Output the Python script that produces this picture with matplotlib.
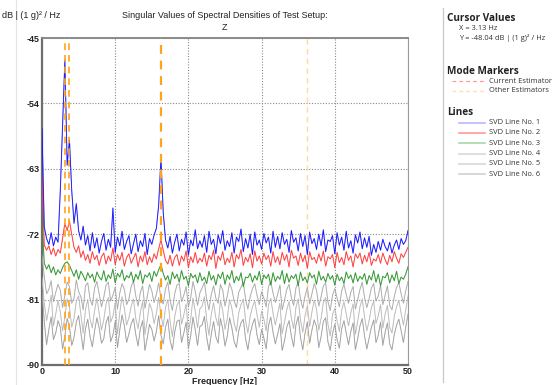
import numpy as np
import matplotlib
matplotlib.use("Agg")
import matplotlib.pyplot as plt
from matplotlib.lines import Line2D

plt.rcParams["axes.unicode_minus"] = False

# ---------------- data ----------------
df = 0.3125  # frequency resolution [Hz]

svd1 = [-57.5, -71.0, -72.6, -73.4, -71.8, -73.6, -72.4, -73.1, -66.0, -57.0,
        -48.0, -62.5, -59.0, -66.0, -70.5, -67.8, -71.5, -72.8, -70.9, -73.5,
        -72.2, -74.3, -71.8, -73.9, -72.5, -74.6, -73.0, -71.9, -74.2, -72.7,
        -73.8, -68.4, -74.5, -72.4, -73.6, -71.6, -74.1, -73.0, -72.2, -74.7,
        -73.3, -72.0, -74.4, -72.9, -73.7, -71.9, -74.8, -72.6, -73.4, -72.1,
        -71.2, -68.0, -61.5, -69.0, -72.8, -73.9, -72.3, -74.6, -73.1, -72.0,
        -74.3, -72.7, -73.5, -71.7, -74.9, -72.8, -73.6, -71.4, -74.0, -72.9,
        -73.8, -72.2, -74.5, -71.6, -73.4, -72.7, -74.7, -72.1, -73.3, -71.5,
        -74.2, -72.9, -73.7, -71.8, -74.6, -72.4, -73.0, -71.3, -74.4, -72.6,
        -73.9, -72.0, -74.8, -71.7, -73.5, -72.8, -74.1, -71.9, -73.2, -72.4,
        -74.6, -71.6, -73.8, -72.3, -74.0, -71.8, -73.4, -72.7, -74.5, -71.5,
        -73.1, -72.5, -74.3, -71.9, -73.7, -72.2, -74.8, -71.7, -73.3, -72.6,
        -74.1, -72.0, -73.6, -71.4, -74.4, -72.8, -73.0, -72.2, -74.7, -71.8,
        -73.5, -72.4, -74.2, -71.6, -73.9, -72.9, -74.6, -72.1, -73.2, -71.7,
        -74.0, -72.5, -73.8, -72.3, -74.9, -73.4, -74.5, -73.0, -74.2, -72.7,
        -73.7, -74.3, -73.1, -74.6, -73.5, -72.8, -74.1, -72.6, -73.4, -72.9,
        -71.5]

svd2 = [-64.0, -73.5, -74.2, -73.6, -74.8, -73.9, -75.0, -74.1, -74.6, -72.5,
        -70.5, -71.5, -70.2, -72.0, -73.8, -74.5, -73.6, -75.2, -74.3, -75.6,
        -74.8, -76.0, -74.4, -75.5, -74.9, -76.3, -75.1, -74.6, -76.1, -75.0,
        -75.7, -73.9, -76.2, -74.8, -75.6, -74.5, -76.4, -75.2, -74.7, -76.0,
        -75.3, -74.6, -76.5, -75.0, -75.8, -74.4, -76.2, -75.1, -75.9, -74.7,
        -75.4, -74.0, -72.8, -74.2, -75.6, -76.1, -74.9, -76.4, -75.2, -74.8,
        -76.3, -75.0, -75.7, -74.3, -76.6, -75.1, -75.9, -74.5, -76.0, -75.3,
        -75.8, -74.6, -76.4, -74.9, -75.5, -74.2, -76.7, -75.0, -75.6, -74.4,
        -76.2, -75.3, -75.9, -74.5, -76.5, -74.8, -75.4, -74.1, -76.3, -75.2,
        -75.8, -74.7, -76.6, -74.3, -75.7, -75.0, -76.1, -74.6, -75.5, -74.9,
        -76.4, -74.4, -75.9, -75.1, -76.2, -74.5, -75.6, -74.8, -76.5, -74.2,
        -75.3, -75.0, -76.3, -74.6, -75.8, -74.9, -76.7, -74.4, -75.5, -75.2,
        -76.0, -74.7, -75.7, -74.3, -76.4, -75.1, -75.4, -74.8, -76.6, -74.5,
        -75.9, -75.2, -76.2, -74.4, -75.6, -75.0, -76.5, -74.7, -75.3, -74.6,
        -76.1, -74.9, -75.8, -74.5, -76.3, -75.4, -75.7, -74.8, -76.0, -74.6,
        -75.5, -76.2, -74.9, -75.8, -74.4, -75.3, -76.0, -74.7, -75.2, -74.5,
        -73.8]

svd3 = [-70.0, -76.0, -76.8, -76.2, -77.3, -76.5, -77.6, -76.9, -77.4, -76.6,
        -76.0, -75.8, -76.3, -77.0, -77.8, -76.9, -78.2, -77.1, -77.7, -78.4,
        -77.3, -78.0, -77.5, -78.6, -77.2, -77.9, -78.3, -77.0, -78.5, -77.6,
        -78.1, -76.8, -78.7, -77.4, -77.9, -76.9, -78.4, -77.7, -78.0, -77.2,
        -78.6, -77.5, -78.2, -77.0, -78.8, -77.6, -77.9, -77.3, -78.5, -77.1,
        -77.8, -76.9, -76.2, -77.4, -78.3, -77.7, -78.9, -77.2, -78.1, -77.5,
        -78.6, -77.0, -78.2, -77.8, -79.1, -77.4, -78.0, -77.6, -78.7, -77.3,
        -78.4, -77.9, -78.8, -77.1, -78.3, -77.7, -79.0, -77.5, -78.1, -77.2,
        -78.9, -77.6, -78.2, -77.0, -78.7, -77.8, -78.4, -77.3, -79.2, -77.9,
        -78.0, -77.4, -78.6, -77.7, -78.3, -77.1, -78.9, -77.6, -78.1, -77.5,
        -79.0, -77.3, -78.5, -77.8, -78.2, -77.0, -78.8, -77.4, -78.6, -77.7,
        -78.1, -77.5, -79.1, -77.2, -78.4, -77.9, -78.7, -77.3, -78.0, -77.6,
        -78.9, -77.1, -78.3, -77.8, -78.6, -77.4, -78.2, -77.7, -79.0, -77.5,
        -78.4, -77.9, -78.8, -77.2, -78.1, -77.6, -78.7, -77.3, -78.5, -77.8,
        -78.2, -77.4, -78.9, -77.7, -78.3, -77.0, -78.6, -77.5, -79.1, -77.8,
        -78.0, -77.3, -78.7, -77.6, -78.4, -77.1, -78.8, -77.9, -78.2, -77.5,
        -76.5]

svd4 = [-75.0, -77.8, -80.2, -79.6, -78.4, -81.3, -80.0, -78.9, -79.7, -82.1,
        -80.4, -78.6, -79.2, -81.5, -80.8, -78.3, -79.9, -80.6, -82.4, -79.1,
        -78.7, -80.9, -81.8, -79.4, -78.5, -80.2, -82.0, -80.7, -79.0, -78.6,
        -81.2, -80.4, -79.3, -82.3, -80.1, -78.8, -79.6, -81.7, -80.9, -79.2,
        -78.4, -80.5, -81.9, -80.0, -79.1, -82.2, -80.6, -78.9, -79.8, -81.4,
        -80.3, -78.7, -80.8, -81.6, -79.5, -78.6, -81.1, -82.5, -80.2, -79.0,
        -78.8, -81.3, -80.4, -79.2, -82.0, -80.7, -78.5, -79.9, -81.8, -80.1,
        -79.4, -78.6, -81.0, -82.4, -80.3, -79.1, -80.8, -81.5, -78.9, -79.7,
        -81.9, -80.5, -78.7, -79.6, -81.2, -82.1, -80.0, -79.3, -78.6, -80.9,
        -82.3, -80.6, -79.5, -78.8, -80.4, -81.7, -79.9, -80.8, -82.0, -79.2,
        -78.5, -80.1, -81.4, -80.3, -79.0, -82.4, -81.1, -79.6, -78.9, -80.7,
        -81.8, -79.4, -78.6, -80.9, -82.2, -80.5, -79.3, -81.6, -80.2, -78.8,
        -79.7, -81.9, -80.6, -79.1, -78.7, -81.3, -82.5, -80.4, -79.5, -80.8,
        -82.0, -79.8, -78.9, -80.3, -81.5, -80.0, -79.2, -82.3, -81.0, -79.6,
        -78.6, -80.7, -82.1, -80.9, -79.4, -78.8, -81.2, -80.5, -79.0, -81.7,
        -80.4, -79.1, -81.8, -82.4, -80.6, -79.3, -78.7, -80.2, -81.5, -79.8,
        -78.5]

svd5 = [-78.0, -81.5, -83.9, -82.2, -80.4, -84.6, -83.0, -81.1, -82.7, -85.3,
        -83.4, -80.9, -82.0, -84.8, -83.6, -81.2, -80.5, -83.1, -85.6, -82.4,
        -81.0, -83.7, -84.9, -82.5, -80.8, -82.9, -85.2, -83.8, -81.6, -80.7,
        -84.1, -83.3, -81.4, -85.7, -82.8, -80.6, -82.2, -84.5, -83.5, -81.9,
        -80.9, -83.6, -85.0, -82.7, -81.3, -85.8, -83.9, -81.5, -82.4, -84.3,
        -82.9, -80.7, -83.2, -84.7, -82.1, -81.0, -84.0, -86.1, -83.4, -81.8,
        -81.2, -84.4, -83.1, -81.6, -85.5, -83.7, -80.8, -82.6, -84.9, -82.3,
        -81.9, -80.6, -83.8, -85.9, -83.0, -81.4, -83.5, -84.6, -81.1, -82.5,
        -85.1, -83.6, -81.0, -82.2, -84.2, -85.4, -82.8, -81.7, -80.9, -83.9,
        -85.6, -83.3, -82.0, -81.2, -83.1, -84.8, -82.6, -83.7, -85.3, -81.8,
        -80.8, -82.9, -84.5, -83.0, -81.5, -85.7, -84.1, -82.4, -81.3, -83.5,
        -85.0, -82.1, -80.9, -83.8, -85.5, -83.2, -81.9, -84.7, -82.7, -81.1,
        -82.3, -85.2, -83.6, -81.4, -80.7, -84.4, -86.0, -83.1, -82.2, -83.9,
        -85.4, -82.5, -81.3, -83.0, -84.6, -82.8, -81.6, -85.8, -84.0, -82.0,
        -80.9, -83.4, -85.3, -83.9, -82.1, -81.2, -84.3, -83.2, -81.7, -84.9,
        -83.0, -81.8, -84.8, -85.6, -83.3, -82.0, -81.1, -82.9, -84.5, -82.4,
        -80.5]

svd6 = [-80.0, -84.0, -87.2, -85.1, -83.4, -86.5, -85.6, -83.9, -84.8, -87.8,
        -86.0, -83.6, -84.7, -87.3, -86.2, -84.1, -83.2, -85.5, -87.9, -85.0,
        -83.7, -86.1, -87.5, -85.3, -83.5, -84.9, -87.0, -86.4, -84.2, -83.3,
        -86.8, -85.9, -84.0, -87.6, -85.2, -83.1, -84.6, -86.9, -85.7, -84.3,
        -83.6, -85.8, -87.4, -85.0, -83.9, -88.0, -86.3, -84.4, -85.1, -86.7,
        -85.4, -83.2, -85.9, -87.1, -84.8, -83.7, -86.6, -87.9, -85.5, -84.0,
        -83.8, -86.9, -85.6, -84.1, -87.7, -86.0, -83.4, -85.2, -87.3, -84.7,
        -84.5, -83.3, -86.2, -88.0, -85.8, -84.0, -86.1, -87.0, -83.6, -85.0,
        -87.4, -86.0, -83.5, -84.9, -86.8, -87.6, -85.3, -84.2, -83.7, -86.4,
        -87.9, -85.7, -84.4, -83.6, -85.9, -87.2, -85.1, -86.3, -87.8, -84.6,
        -83.4, -85.5, -87.1, -85.8, -84.3, -88.0, -86.7, -84.8, -83.9, -86.0,
        -87.5, -84.5, -83.3, -86.2, -87.9, -85.6, -84.1, -87.0, -85.2, -83.8,
        -84.7, -87.6, -86.1, -84.0, -83.5, -86.8, -88.0, -85.7, -84.4, -86.5,
        -87.7, -85.0, -83.9, -85.6, -87.2, -85.4, -84.2, -87.9, -86.4, -84.6,
        -83.6, -86.0, -87.8, -86.3, -84.8, -83.8, -86.9, -85.9, -84.1, -87.3,
        -85.5, -84.2, -87.1, -87.9, -85.8, -84.5, -83.7, -85.3, -86.9, -84.8,
        -83.0]

series = [svd1, svd2, svd3, svd4, svd5, svd6]
series_names = ["SVD Line No. 1", "SVD Line No. 2", "SVD Line No. 3",
                "SVD Line No. 4", "SVD Line No. 5", "SVD Line No. 6"]
mode_freqs = [3.13, 3.75, 16.25]
other_freqs = [36.2]
x_ticks = [0, 10, 20, 30, 40, 50]
y_ticks = [-90, -81, -72, -63, -54, -45]

# ---------------- styling ----------------
line_colors = ["#1414ff", "#ff3b3b", "#2f962f", "#a8a8a8", "#b8b8b8", "#9c9c9c"]
legend_colors = ["#b8b8ff", "#ff9a9a", "#a8d8a8", "#d8d8d8", "#d8d8d8", "#d0d0d0"]
W, H = 560, 385
fig = plt.figure(figsize=(W / 100, H / 100), dpi=100)
fig.patch.set_facecolor("white")

L, R, T, B = 42, 408, 38, 365
ax = fig.add_axes([L / W, 1 - B / H, (R - L) / W, (B - T) / H])

freq = np.arange(len(svd1)) * df
for i in reversed(range(6)):
    ax.plot(freq, series[i], color=line_colors[i], lw=0.8, alpha=0.35 if i < 3 else 0.3,
            solid_joinstyle="round", zorder=3)
    ax.plot(freq, series[i], color=line_colors[i], lw=0.6 if i < 3 else 0.55, zorder=3)

for f in mode_freqs:
    ax.axvline(f, color="#ffa31a", lw=1.6 if f > 10 else 1.2, dashes=(4, 3), zorder=4)
for f in other_freqs:
    ax.axvline(f, color="#ffd9a0", lw=1.0, dashes=(4, 3), zorder=2)

ax.set_xlim(0, 50)
ax.set_ylim(-90, -45)
ax.set_xticks(x_ticks)
ax.set_yticks(y_ticks)
ax.grid(True, color="#8a8a8a", lw=0.8, ls=(0, (1, 1.5)))
ax.tick_params(length=0, pad=1.5, labelsize=6.5, colors="#222222")
for lab in ax.get_xticklabels() + ax.get_yticklabels():
    lab.set_fontfamily("Liberation Sans")
    lab.set_fontweight("bold")
for s in ["left", "bottom"]:
    ax.spines[s].set_color("#6e6e6e")
    ax.spines[s].set_linewidth(1.6)
ax.spines["top"].set_color("#8a8a8a")
ax.spines["top"].set_linewidth(1.4)
ax.spines["right"].set_color("#9a9a9a")
ax.spines["right"].set_linewidth(0.8)
ax.set_xlabel("Frequency [Hz]", fontsize=6.5, fontweight="bold", family="Liberation Sans",
              labelpad=1, color="#222222")

def fy(y):
    return 1 - y / H

fig.text(2 / W, fy(15), "dB | (1 g)² / Hz", fontsize=6.5, family="Liberation Sans",
         va="center", ha="left", color="#222222")
fig.text(225 / W, fy(15), "Singular Values of Spectral Densities of Test Setup:",
         fontsize=6.5, family="Liberation Sans", va="center", ha="center", color="#222222")
fig.text(225 / W, fy(27), "Z", fontsize=6.5, family="Liberation Sans",
         va="center", ha="center", color="#222222")

# panel separators
fig.add_artist(Line2D([16 / W, 16 / W], [0, 1], color="#e4e4e4", lw=0.8))
fig.add_artist(Line2D([443 / W, 443 / W], [fy(8), fy(382)], color="#c8c8c8", lw=0.9))

# right-side legend panel
lf = "Open Sans"
fs_small = 5.4
fig.text(447 / W, fy(18.5), "Cursor Values", fontsize=7.2, fontweight="bold", family=lf,
         va="center", color="#222222")
fig.text(459 / W, fy(29), "X = 3.13 Hz", fontsize=fs_small, family=lf, va="center", color="#333333")
fig.text(459 / W, fy(38), "Y = -48.04 dB | (1 g)² / Hz", fontsize=fs_small, family=lf,
         va="center", color="#333333")
fig.text(447 / W, fy(71), "Mode Markers", fontsize=7.2, fontweight="bold", family=lf,
         va="center", color="#222222")
fig.add_artist(Line2D([452 / W, 485 / W], [fy(81.3)] * 2, color="#ff9a9a", lw=0.9, dashes=(3, 2.5)))
fig.text(489 / W, fy(81.3), "Current Estimator", fontsize=fs_small, family=lf, va="center", color="#333333")
fig.add_artist(Line2D([452 / W, 485 / W], [fy(90.7)] * 2, color="#ffdca8", lw=0.9, dashes=(3, 2.5)))
fig.text(489 / W, fy(90.7), "Other Estimators", fontsize=fs_small, family=lf, va="center", color="#333333")
fig.text(447 / W, fy(112.7), "Lines", fontsize=7.2, fontweight="bold", family=lf,
         va="center", color="#222222")
for k, name in enumerate(series_names):
    yy = fy(122.7 + k * 10.3)
    fig.add_artist(Line2D([459 / W, 485 / W], [yy, yy], color=legend_colors[k], lw=1.2))
    fig.text(489 / W, yy, name, fontsize=fs_small, family=lf, va="center", color="#333333")

fig.savefig("out.png", dpi=100, facecolor="white")
